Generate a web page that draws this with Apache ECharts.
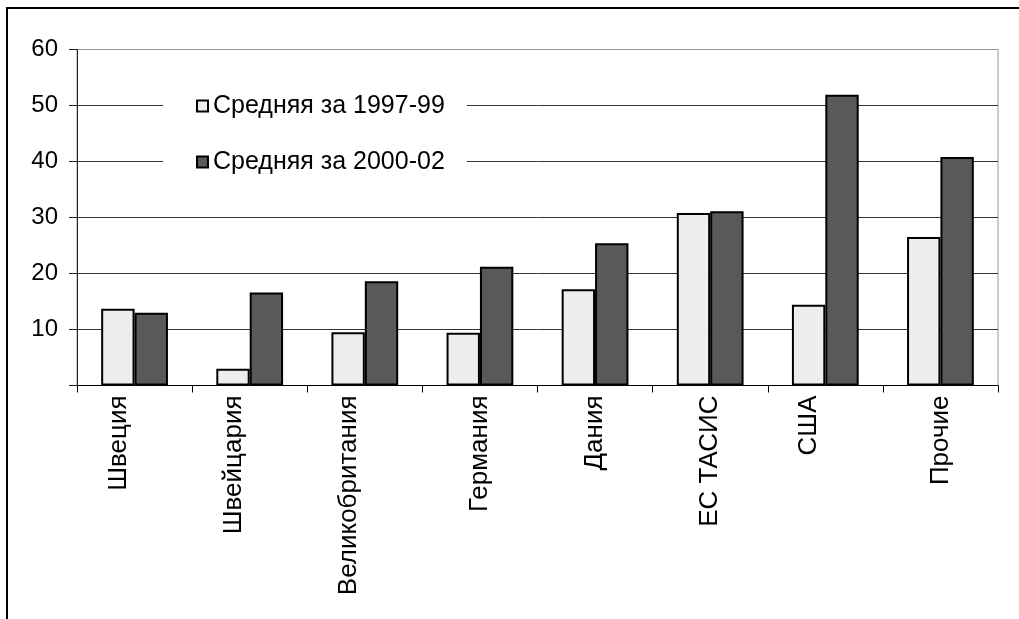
<!DOCTYPE html>
<html>
<head>
<meta charset="utf-8">
<script src="https://cdn.jsdelivr.net/npm/echarts@6/dist/echarts.min.js"></script>
<style>
	html, body { margin: 0; padding: 0; background: #fff; }
	#chart { width: 1019px; height: 619px; }
</style>
</head>
<body>
<div id="chart"></div>
<script>
var categories = ['Швеция', 'Швейцария', 'Великобритания', 'Германия', 'Дания', 'ЕС ТАСИС', 'США', 'Прочие'];
var avg9799 = [13.7, 3.0, 9.5, 9.4, 17.2, 30.8, 14.4, 26.5];
var avg0002 = [13.0, 16.6, 18.6, 21.2, 25.4, 31.1, 51.9, 40.8];
var seriesNames = ['Средняя за 1997-99', 'Средняя за 2000-02'];
var yTicks = [0, 10, 20, 30, 40, 50, 60];

// these labels sit a bit left of their category in the original
var shiftedLabels = ['Швеция', 'Швейцария', 'Великобритания', 'США'];

var font = 'Arial, "Liberation Sans", sans-serif';

function renderChart(el) {
	var chart = echarts.init(el, null, { renderer: 'canvas' });

	chart.setOption({
		animation: false,
		backgroundColor: '#fff',
		textStyle: { fontFamily: font },
		graphic: [{
			type: 'rect',
			shape: { x: 7, y: 8, width: 1100, height: 700 },
			style: { fill: null, stroke: '#000', lineWidth: 2 },
			silent: true
		}],
		legend: {
			orient: 'vertical',
			left: 163,
			top: 71,
			padding: [20, 22, 20, 33],
			backgroundColor: '#fff',
			itemWidth: 11,
			itemHeight: 11,
			itemGap: 26,
			icon: 'rect',
			textStyle: { fontSize: 25, color: '#000', lineHeight: 30, fontFamily: font },
			data: seriesNames
		},
		grid: {
			left: 77,
			right: 21,
			top: 49.5,
			bottom: 233.5,
			show: true,
			borderColor: '#999',
			borderWidth: 1
		},
		xAxis: {
			type: 'category',
			data: categories,
			axisLine: { lineStyle: { color: '#000', width: 1 } },
			axisTick: { show: true, length: 7, lineStyle: { color: '#000' } },
			axisLabel: {
				rotate: 90,
				interval: 0,
				margin: 10,
				fontSize: 26,
				lineHeight: 32,
				color: '#000',
				fontFamily: font,
				formatter: function (v) {
					return shiftedLabels.indexOf(v) >= 0 ? v + '\n' : v;
				}
			}
		},
		yAxis: {
			type: 'value',
			min: yTicks[0],
			max: yTicks[yTicks.length - 1],
			interval: 10,
			axisLine: { show: true, lineStyle: { color: '#222', width: 1 } },
			axisTick: { show: true, length: 8, lineStyle: { color: '#222' } },
			axisLabel: {
				margin: 19,
				fontSize: 24,
				color: '#000',
				fontFamily: font,
				formatter: function (v) { return v === 0 ? '' : String(v); }
			},
			splitLine: {
				show: true,
				lineStyle: { color: ['#333', '#333', '#333', '#333', '#333', '#333', '#999'], width: 1 }
			}
		},
		series: [{
			name: seriesNames[0],
			type: 'bar',
			data: avg9799,
			barGap: '0%',
			barCategoryGap: '42%',
			itemStyle: { color: '#eeeeee', borderColor: '#000', borderWidth: 2 }
		}, {
			name: seriesNames[1],
			type: 'bar',
			data: avg0002,
			barGap: '0%',
			barCategoryGap: '42%',
			itemStyle: { color: '#595959', borderColor: '#000', borderWidth: 2 }
		}]
	});
}

renderChart(document.getElementById('chart'));
</script>
</body>
</html>
